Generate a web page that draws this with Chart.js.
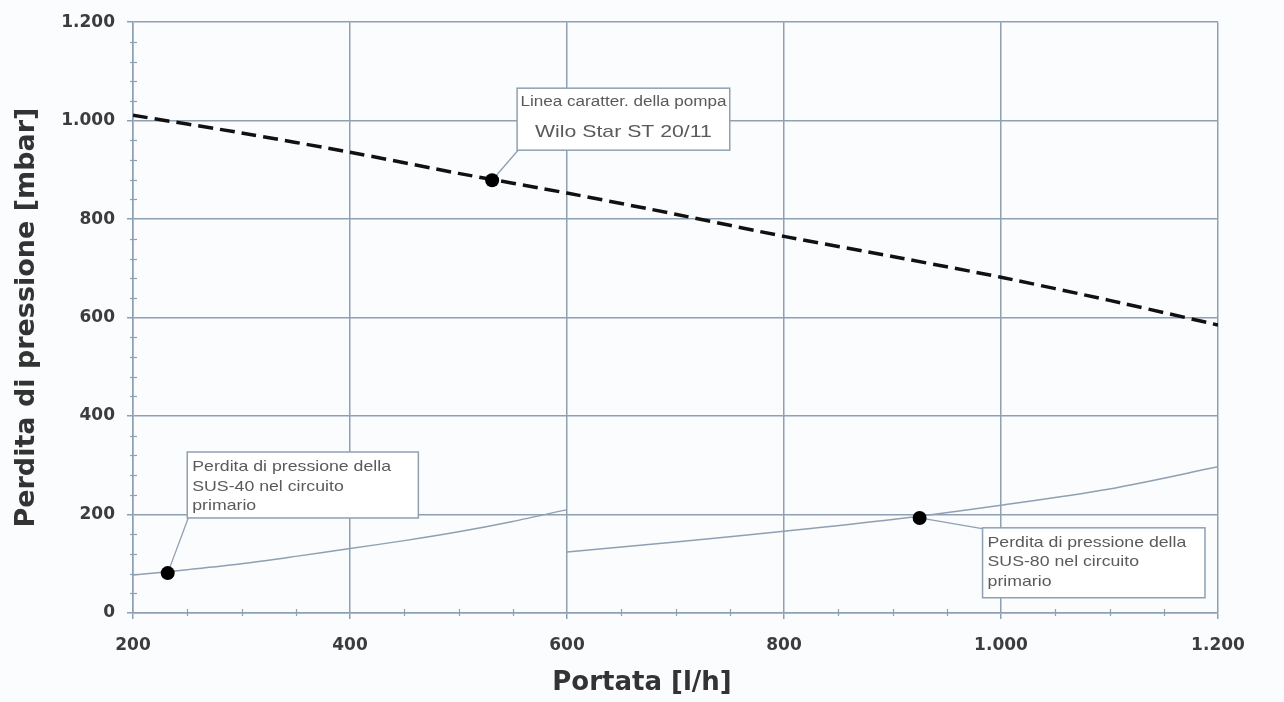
<!DOCTYPE html>
<html><head><meta charset="utf-8">
<script src="https://cdn.jsdelivr.net/npm/chart.js@4/dist/chart.umd.min.js"></script>
<style>html,body{margin:0;padding:0;background:#fbfcfd;}#wrap{width:1284px;height:702px;position:relative}</style>
</head><body><div id="wrap"><canvas id="c" width="1284" height="702"></canvas></div>
<script>
// ---- data ----
const pumpFlow = [200, 300, 400, 500, 600, 700, 800, 900, 1000, 1100, 1200];
const pumpHead = [1011, 975, 936, 893, 853, 810, 765, 724, 682, 635, 585];
const sus40Flow = [200, 250, 300, 350, 400, 450, 500, 550, 600];
const sus40Loss = [77, 88, 100, 115, 131, 147, 165, 186, 210];
const sus80Flow = [600, 700, 800, 900, 1000, 1100, 1200];
const sus80Loss = [124, 144, 166, 190, 219, 252, 297];
const pointFlow = [531, 232, 925];
const pointLoss = [879, 81, 193];
const xTickValues = [200, 400, 600, 800, 1000, 1200];
const yTickValues = [0, 200, 400, 600, 800, 1000, 1200];
const xTitle = 'Portata [l/h]';
const yTitle = 'Perdita di pressione [mbar]';
const noteTexts = [
  ["Linea caratter. della pompa", "Wilo Star ST 20/11"],
  ["Perdita di pressione della", "SUS-40 nel circuito", "primario"],
  ["Perdita di pressione della", "SUS-80 nel circuito", "primario"]
];

const GRID = '#8fa0b2';
const fmt = v => v >= 1000 ? Math.floor(v / 1000) + '.' + String(v % 1000).padStart(3, '0') : String(v);
const zip = (xs, ys) => xs.map((x, i) => ({x: x, y: ys[i]}));

// annotation boxes in data coordinates
const noteBoxes = [
  {x0: 554, x1: 750, y0: 1066, y1: 940, point: 0, from: 'bl', align: 'center'},
  {x0: 250, x1: 463, y0: 327, y1: 193, point: 1, from: 'bl', align: 'left'},
  {x0: 983, x1: 1188, y0: 173, y1: 31, point: 2, from: 'tl', align: 'left'}
];

function stretchText(ctx, s, x, y, sx) {
  ctx.save();
  ctx.translate(x, y);
  ctx.scale(sx, 1);
  ctx.fillText(s, 0, 0);
  ctx.restore();
}

const notesPlugin = {
  id: 'notes',
  afterDatasetsDraw(chart) {
    const {ctx, scales: {x, y}, chartArea: ca} = chart;
    ctx.save();
    // minor ticks
    ctx.strokeStyle = GRID; ctx.lineWidth = 1.2;
    for (let v = 0; v <= 1200; v += 40) {
      if (v % 200 === 0) continue;
      const py = Math.round(y.getPixelForValue(v)) + 0.5;
      ctx.beginPath(); ctx.moveTo(ca.left - 3, py); ctx.lineTo(ca.left + 4, py); ctx.stroke();
    }
    for (let v = 200; v <= 1200; v += 50) {
      if (v % 200 === 0) continue;
      const px = Math.round(x.getPixelForValue(v)) + 0.5;
      ctx.beginPath(); ctx.moveTo(px, ca.bottom - 4); ctx.lineTo(px, ca.bottom + 3); ctx.stroke();
    }
    noteBoxes.forEach((b, i) => {
      const l = x.getPixelForValue(b.x0), r = x.getPixelForValue(b.x1);
      const t = y.getPixelForValue(b.y0), bt = y.getPixelForValue(b.y1);
      const px = x.getPixelForValue(pointFlow[b.point]), py = y.getPixelForValue(pointLoss[b.point]);
      ctx.strokeStyle = GRID; ctx.lineWidth = 1.3;
      ctx.beginPath();
      ctx.moveTo(l + 1, b.from === 'bl' ? bt : t + 1);
      ctx.lineTo(px, py);
      ctx.stroke();
      ctx.fillStyle = '#ffffff';
      ctx.fillRect(l, t, r - l, bt - t);
      ctx.lineWidth = 1.5;
      ctx.strokeRect(l, t, r - l, bt - t);
      ctx.fillStyle = '#5a5a5a';
      ctx.textBaseline = 'middle';
      const lines = noteTexts[i];
      if (b.align === 'center') {
        ctx.textAlign = 'center';
        ctx.font = '14px "Liberation Sans", Arial, sans-serif';
        stretchText(ctx, lines[0], (l + r) / 2, t + 14, 1.22);
        ctx.font = '17px "Liberation Sans", Arial, sans-serif';
        stretchText(ctx, lines[1], (l + r) / 2, t + 44, 1.25);
      } else {
        ctx.textAlign = 'left';
        ctx.font = '15px "Liberation Sans", Arial, sans-serif';
        lines.forEach((s, k) => stretchText(ctx, s, l + 5, t + 15 + k * 19.5, 1.18));
      }
    });
    ctx.fillStyle = '#000';
    pointFlow.forEach((f, k) => {
      ctx.beginPath();
      ctx.arc(x.getPixelForValue(f), y.getPixelForValue(pointLoss[k]), 7, 0, Math.PI * 2);
      ctx.fill();
    });
    // x axis title, centred on the page
    ctx.fillStyle = '#333';
    ctx.textAlign = 'center';
    ctx.textBaseline = 'middle';
    ctx.font = 'bold 26px "DejaVu Sans", Arial, sans-serif';
    ctx.fillText(xTitle, chart.width / 2, 683);
    ctx.restore();
  }
};

new Chart(document.getElementById('c'), {
  type: 'scatter',
  data: {
    datasets: [
      {label: 'Pompa', data: zip(pumpFlow, pumpHead), showLine: true, borderColor: '#111', borderWidth: 3.5,
       borderDash: [15, 7], pointRadius: 0, tension: 0.2, fill: false},
      {label: 'SUS-40', data: zip(sus40Flow, sus40Loss), showLine: true, borderColor: GRID, borderWidth: 1.5,
       pointRadius: 0, tension: 0.3, fill: false},
      {label: 'SUS-80', data: zip(sus80Flow, sus80Loss), showLine: true, borderColor: GRID, borderWidth: 1.5,
       pointRadius: 0, tension: 0.3, fill: false}
    ]
  },
  options: {
    responsive: false,
    animation: false,
    events: [],
    layout: {padding: {left: 0, top: 22, right: 66, bottom: 0}},
    plugins: {legend: {display: false}, tooltip: {enabled: false}},
    scales: {
      x: {
        type: 'linear', min: 200, max: 1200,
        afterFit: s => { s.height = 89; },
        afterBuildTicks: s => { s.ticks = xTickValues.map(v => ({value: v})); },
        ticks: {callback: v => fmt(v), color: '#3c3c3c', padding: 16,
                font: {family: '"DejaVu Sans", Verdana, sans-serif', size: 17, weight: 'bold'}},
        grid: {color: GRID, lineWidth: 1.5, tickLength: 6, tickColor: GRID},
        border: {color: GRID, width: 1.5},
        title: {display: false}
      },
      y: {
        type: 'linear', min: 0, max: 1200,
        afterFit: s => { s.width = 133; },
        afterBuildTicks: s => { s.ticks = yTickValues.map(v => ({value: v})); },
        ticks: {callback: v => fmt(v), color: '#3c3c3c', padding: 12,
                font: {family: '"DejaVu Sans", Verdana, sans-serif', size: 17, weight: 'bold'}},
        grid: {color: GRID, lineWidth: 1.5, tickLength: 6, tickColor: GRID},
        border: {color: GRID, width: 1.5},
        title: {display: true, text: yTitle, color: '#333',
                font: {family: '"DejaVu Sans", Arial, sans-serif', size: 27, weight: 'bold'},
                padding: {top: 11, bottom: 0}}
      }
    }
  },
  plugins: [notesPlugin]
});
</script>
</body></html>
